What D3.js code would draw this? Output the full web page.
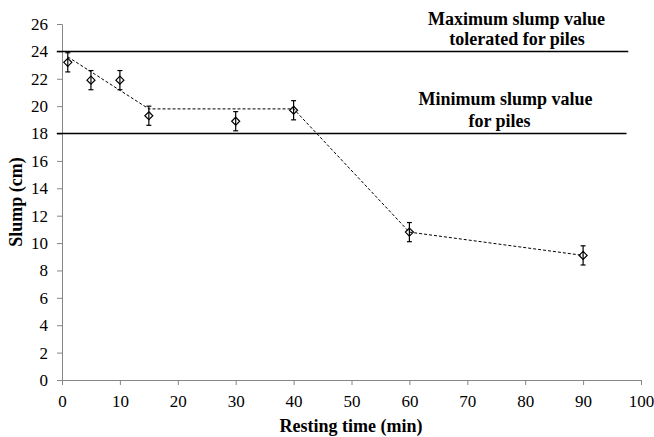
<!DOCTYPE html>
<html>
<head>
<meta charset="utf-8">
<script src="https://cdn.jsdelivr.net/npm/d3@7"></script>
<style>
  body { margin: 0; background: #fff; }
</style>
</head>
<body>
<script>
// measured points
var timeMin = [1, 5, 10, 15, 30, 40, 60, 90];
var slumpCm = [23.2, 21.9, 21.9, 19.3, 18.9, 19.7, 10.8, 9.1];
var errCm = [0.7, 0.7, 0.7, 0.7, 0.7, 0.7, 0.7, 0.7];

// dashed trend
var trendTime = [1, 15, 40, 60, 90];
var trendSlump = [23.6, 19.8, 19.8, 10.8, 9.1];

// limit lines
var limitValues = [24, 18];
var limitLabels = [["Maximum slump value", "tolerated for piles"], ["Minimum slump value", "for piles"]];

var xTicks = [0, 10, 20, 30, 40, 50, 60, 70, 80, 90, 100];
var yTicks = [0, 2, 4, 6, 8, 10, 12, 14, 16, 18, 20, 22, 24, 26];

var serif = "Liberation Serif";

var margin = { top: 24, right: 13, bottom: 57, left: 62 },
    width = 654 - margin.left - margin.right,
    height = 437 - margin.top - margin.bottom;

var svg = d3.select("body").append("svg")
    .attr("width", 654)
    .attr("height", 437)
    .style("font-family", serif);

var g = svg.append("g")
    .attr("transform", "translate(" + margin.left + "," + margin.top + ")");

var x = d3.scaleLinear().domain([0, 100]).range([0, width]);
var y = d3.scaleLinear().domain([0, 26]).range([height, 0]);

// axes
var yAxis = g.append("g")
    .call(d3.axisLeft(y).tickValues(yTicks).tickSize(5).tickPadding(9));
var xAxis = g.append("g")
    .attr("transform", "translate(0," + height + ")")
    .call(d3.axisBottom(x).tickValues(xTicks).tickSize(5).tickPadding(10));

[xAxis, yAxis].forEach(function (a) {
    a.attr("font-family", serif).attr("font-size", 17);
    a.select(".domain").attr("stroke", "#868686");
    a.selectAll(".tick line").attr("stroke", "#868686");
    a.selectAll(".tick text")
        .attr("fill", "#000")
        .style("font-family", serif)
        .style("font-size", "17px");
});

// limit lines
limitValues.forEach(function (v, i) {
    g.append("line")
        .attr("x1", x(-0.9))
        .attr("x2", x(i === 0 ? 97.8 : 97.5))
        .attr("y1", y(v))
        .attr("y2", y(v))
        .attr("stroke", "#000")
        .attr("stroke-width", 1.5);
});

// labels for limit lines
var labelPos = [
    [[516.5, 25], [517, 45]],
    [[505.5, 105], [499.5, 127]]
];
limitLabels.forEach(function (lines, i) {
    lines.forEach(function (t, j) {
        svg.append("text")
            .attr("x", labelPos[i][j][0])
            .attr("y", labelPos[i][j][1])
            .attr("text-anchor", "middle")
            .attr("font-family", serif)
            .attr("font-size", 18)
            .attr("font-weight", "bold")
            .text(t);
    });
});

// dashed trend
var trend = trendTime.map(function (t, i) { return [t, trendSlump[i]]; });
g.append("path")
    .datum(trend)
    .attr("fill", "none")
    .attr("stroke", "#000")
    .attr("stroke-width", 1)
    .attr("stroke-dasharray", "3,2")
    .attr("d", d3.line()
        .x(function (d) { return x(d[0]); })
        .y(function (d) { return y(d[1]); }));

// error bars
var pts = timeMin.map(function (t, i) { return { t: t, s: slumpCm[i], e: errCm[i] }; });
var eb = g.selectAll(".err").data(pts).enter().append("g").attr("class", "err");
eb.append("line")
    .attr("x1", function (d) { return x(d.t); })
    .attr("x2", function (d) { return x(d.t); })
    .attr("y1", function (d) { return y(d.s + d.e); })
    .attr("y2", function (d) { return y(d.s - d.e); })
    .attr("stroke", "#000").attr("stroke-width", 1.2);
[1, -1].forEach(function (sgn) {
    eb.append("line")
        .attr("x1", function (d) { return x(d.t) - 2.5; })
        .attr("x2", function (d) { return x(d.t) + 2.5; })
        .attr("y1", function (d) { return y(d.s + sgn * d.e); })
        .attr("y2", function (d) { return y(d.s + sgn * d.e); })
        .attr("stroke", "#000").attr("stroke-width", 1.2);
});

// diamond markers
g.selectAll(".pt").data(pts).enter().append("path")
    .attr("class", "pt")
    .attr("d", function (d) {
        var cx = x(d.t), cy = y(d.s), r = 4;
        return "M" + cx + "," + (cy - r) + "L" + (cx + r) + "," + cy +
            "L" + cx + "," + (cy + r) + "L" + (cx - r) + "," + cy + "Z";
    })
    .attr("fill", "none")
    .attr("stroke", "#000")
    .attr("stroke-width", 1.2);

// axis titles
svg.append("text")
    .attr("x", 351)
    .attr("y", 432)
    .attr("text-anchor", "middle")
    .attr("font-family", serif)
    .attr("font-size", 18)
    .attr("font-weight", "bold")
    .text("Resting time (min)");

svg.append("text")
    .attr("transform", "translate(22," + (margin.top + height / 2) + ") rotate(-90)")
    .attr("text-anchor", "middle")
    .attr("font-family", serif)
    .attr("font-size", 18)
    .attr("font-weight", "bold")
    .text("Slump (cm)");
</script>
</body>
</html>
